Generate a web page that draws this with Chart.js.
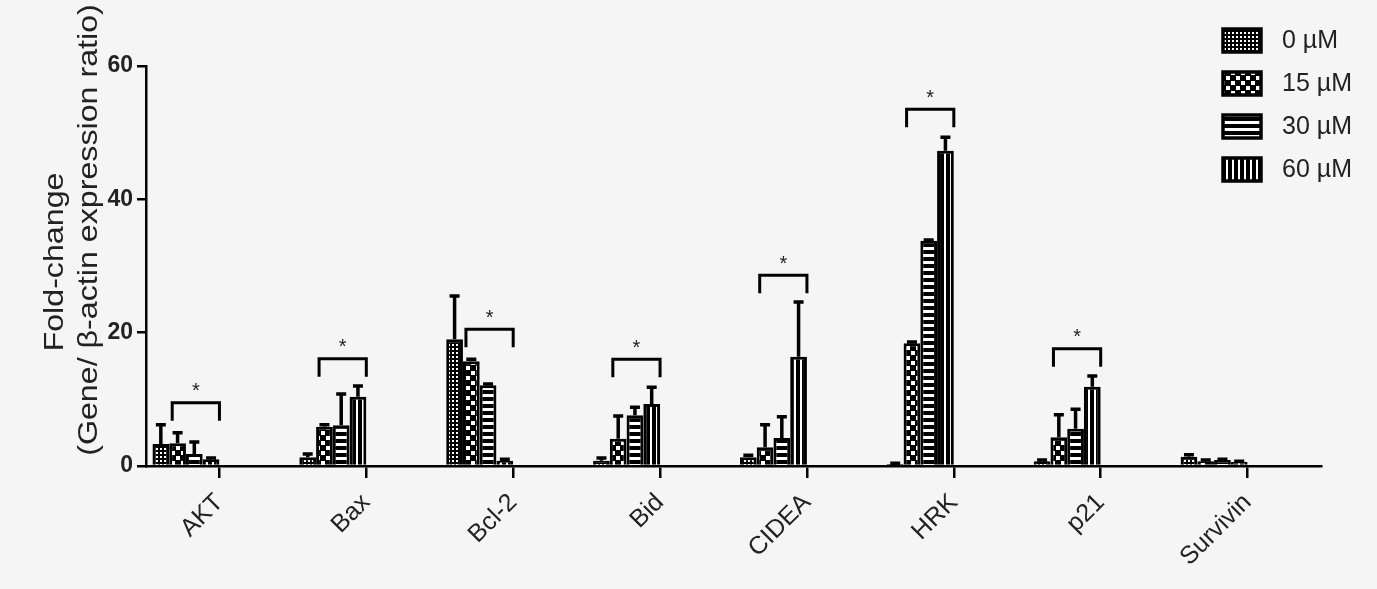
<!DOCTYPE html>
<html>
<head>
<meta charset="utf-8">
<script src="https://cdn.jsdelivr.net/npm/chart.js@4.4.1/dist/chart.umd.min.js"></script>
<style>
  html, body { margin: 0; padding: 0; background: #f5f5f5; }
  canvas { display: block; }
</style>
</head>
<body>
<canvas id="chart" width="1377" height="589"></canvas>
<script>
/* ---------- DATA ---------- */
const genes = ["AKT", "Bax", "Bcl-2", "Bid", "CIDEA", "HRK", "p21", "Survivin"];
const doses = ["0 µM", "15 µM", "30 µM", "60 µM"];

const mean0  = [3.3, 1.3, 19.0, 0.8, 1.3, 0.3, 0.7, 1.4];
const mean15 = [3.4, 5.9, 15.7, 4.1, 2.8, 18.4, 4.3, 0.7];
const mean30 = [1.8, 6.1, 12.1, 7.6, 4.2, 33.8, 5.6, 0.9];
const mean60 = [1.0, 10.4, 0.8, 9.3, 16.4, 47.3, 11.9, 0.6];

const sd0  = [2.9, 0.5, 6.5, 0.4, 0.3, 0.1, 0.2, 0.3];
const sd15 = [1.6, 0.3, 0.3, 3.4, 3.4, 0.2, 3.4, 0.2];
const sd30 = [1.8, 4.7, 0.2, 1.2, 3.2, 0.1, 2.9, 0.1];
const sd60 = [0.2, 1.6, 0.2, 2.5, 8.2, 2.0, 1.6, 0.1];

// height of the significance bracket (0 vs 60 µM), null = none
const sigTop = [9.5, 16.1, 20.5, 16.0, 28.6, 53.5, 17.6, null];

const yTicks = [0, 20, 40, 60];
const yTitle = ["Fold-change", "(Gene/ β-actin expression ratio)"];

const FONT = "'Liberation Sans', Arial, sans-serif";

/* ---------- PATTERNS ---------- */
function makePattern(kind) {
    const c = document.createElement("canvas");
    const g = c.getContext("2d");
    if (kind === 0) {            // fine dots
        c.width = 4; c.height = 4;
        g.fillStyle = "#000"; g.fillRect(0, 0, 4, 4);
        g.fillStyle = "#fff"; g.fillRect(0, 0, 2, 2);
    } else if (kind === 1) {     // coarse checker
        c.width = 10; c.height = 10;
        g.fillStyle = "#000"; g.fillRect(0, 0, 10, 10);
        g.fillStyle = "#fff";
        g.fillRect(1, 1, 4, 4); g.fillRect(6, 6, 4, 4);
    } else if (kind === 2) {     // horizontal stripes
        c.width = 4; c.height = 7;
        g.fillStyle = "#000"; g.fillRect(0, 0, 4, 7);
        g.fillStyle = "#fff"; g.fillRect(0, 2, 4, 3);
    } else {                     // vertical stripes
        c.width = 6; c.height = 4;
        g.fillStyle = "#000"; g.fillRect(0, 0, 6, 4);
        g.fillStyle = "#fff"; g.fillRect(2, 0, 2, 4);
    }
    return g.createPattern(c, "repeat");
}
const patterns = [0, 1, 2, 3].map(makePattern);

/* ---------- DATASETS ---------- */
const GROUP = 0.456;               // share of a slot used by the 4 bars
const SHIFT = GROUP / 2;           // bars sit left of the tick
const means = [mean0, mean15, mean30, mean60];
const sds = [sd0, sd15, sd30, sd60];

const datasets = doses.map((d, k) => ({
    label: d,
    data: genes.map((g, i) => ({ x: i - SHIFT, y: means[k][i] })),
    sd: sds[k],
    backgroundColor: patterns[k],
    borderColor: "#000",
    borderWidth: 3,
    categoryPercentage: GROUP,
    barPercentage: 1
}));

/* ---------- PLUGIN: error bars, brackets, legend, y title ---------- */
const extras = {
    id: "extras",
    afterDatasetsDraw(chart) {
        const ctx = chart.ctx;
        const y = chart.scales.y;
        ctx.save();
        ctx.strokeStyle = "#000";
        ctx.lineCap = "butt";

        // error bars (upper only)
        chart.data.datasets.forEach((ds, k) => {
            const meta = chart.getDatasetMeta(k);
            meta.data.forEach((bar, i) => {
                const top = y.getPixelForValue(means[k][i] + ds.sd[i]);
                ctx.lineWidth = 3.5;
                ctx.beginPath();
                ctx.moveTo(bar.x, bar.y);
                ctx.lineTo(bar.x, top);
                ctx.moveTo(bar.x - 5, top);
                ctx.lineTo(bar.x + 5, top);
                ctx.stroke();
            });
        });

        // significance brackets
        const m1 = chart.getDatasetMeta(1);
        const m3 = chart.getDatasetMeta(3);
        sigTop.forEach((v, i) => {
            if (v === null) return;
            const b1 = m1.data[i], b3 = m3.data[i];
            const x1 = b1.x - b1.width / 2 + 3;
            const x2 = b3.x + b3.width / 2;
            const yt = y.getPixelForValue(v);
            ctx.lineWidth = 3;
            ctx.beginPath();
            ctx.moveTo(x1, yt + 18);
            ctx.lineTo(x1, yt);
            ctx.lineTo(x2, yt);
            ctx.lineTo(x2, yt + 18);
            ctx.stroke();
            ctx.fillStyle = "#222";
            ctx.font = "20px " + FONT;
            ctx.textAlign = "center";
            ctx.textBaseline = "middle";
            ctx.fillText("*", (x1 + x2) / 2, yt - 11);
        });

        // legend
        doses.forEach((d, k) => {
            const top = 29 + k * 43;
            ctx.fillStyle = patterns[k];
            ctx.fillRect(1223, top, 38, 23);
            ctx.lineWidth = 3.5;
            ctx.strokeRect(1223, top, 38, 23);
            ctx.fillStyle = "#222";
            ctx.font = "25px " + FONT;
            ctx.textAlign = "left";
            ctx.textBaseline = "middle";
            ctx.fillText(d, 1282, top + 12);
        });

        // y axis title (two lines, slightly stretched along its length)
        const titlePos = [[55, 262], [89, 230]];
        yTitle.forEach((t, j) => {
            ctx.save();
            ctx.translate(titlePos[j][0], titlePos[j][1]);
            ctx.rotate(-Math.PI / 2);
            ctx.scale(1.15, 1);
            ctx.fillStyle = "#222";
            ctx.font = "28px " + FONT;
            ctx.textAlign = "center";
            ctx.textBaseline = "middle";
            ctx.fillText(t, 0, 0);
            ctx.restore();
        });
        ctx.restore();
    }
};

/* ---------- CHART ---------- */
new Chart(document.getElementById("chart"), {
    type: "bar",
    data: { datasets },
    plugins: [extras],
    options: {
        responsive: false,
        animation: false,
        devicePixelRatio: 1,
        layout: { padding: { left: 0, right: 56, top: 66, bottom: 0 } },
        plugins: { legend: { display: false }, tooltip: { enabled: false } },
        scales: {
            x: {
                type: "linear",
                min: -0.5,
                max: 7.5,
                offset: false,
                afterBuildTicks: axis => {
                    axis.ticks = genes.map((g, i) => ({ value: i }));
                },
                afterFit: axis => { axis.height = 123; },
                ticks: {
                    autoSkip: false,
                    maxRotation: 45,
                    minRotation: 45,
                    padding: 10,
                    color: "#222",
                    font: { family: FONT, size: 25 },
                    callback: v => genes[v] ?? ""
                },
                grid: {
                    drawOnChartArea: false,
                    drawTicks: true,
                    tickLength: 12,
                    color: "#000",
                    lineWidth: 2.5,
                    offset: false
                },
                border: { display: true, color: "#000", width: 2.5 }
            },
            y: {
                min: 0,
                max: 60,
                afterBuildTicks: axis => {
                    axis.ticks = yTicks.map(v => ({ value: v }));
                },
                afterFit: axis => { axis.width = 146; },
                ticks: {
                    color: "#222",
                    padding: 4,
                    font: { family: FONT, size: 23, weight: "bold" }
                },
                grid: {
                    drawOnChartArea: false,
                    drawTicks: true,
                    tickLength: 9,
                    color: "#000",
                    lineWidth: 2.5
                },
                border: { display: true, color: "#000", width: 2.5 }
            }
        }
    }
});
</script>
</body>
</html>
